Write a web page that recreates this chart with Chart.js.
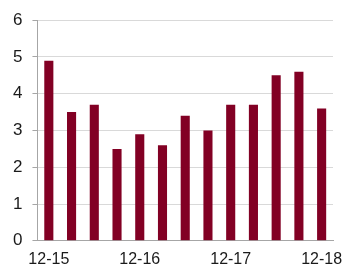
<!DOCTYPE html>
<html>
<head>
<meta charset="utf-8">
<script src="https://cdn.jsdelivr.net/npm/chart.js@4"></script>
<style>
  html, body { margin: 0; padding: 0; background: #fff; }
  #wrap { width: 347px; height: 269px; }
</style>
</head>
<body>
<div id="wrap"><canvas id="chart" width="347" height="269"></canvas></div>
<script>
// quarterly values, Dec-15 .. Dec-18
const categories = ["12-15", "03-16", "06-16", "09-16", "12-16", "03-17", "06-17",
                    "09-17", "12-17", "03-18", "06-18", "09-18", "12-18"];
const values = [4.9, 3.5, 3.7, 2.5, 2.9, 2.6, 3.4, 3.0, 3.7, 3.7, 4.5, 4.6, 3.6];
const yTicks = [0, 1, 2, 3, 4, 5, 6];

const ctx = document.getElementById("chart").getContext("2d");

new Chart(ctx, {
    type: "bar",
    data: {
        labels: categories,
        datasets: [{
            data: values,
            backgroundColor: "#820024",
            borderWidth: 0,
            categoryPercentage: 1,
            barPercentage: 0.4
        }]
    },
    options: {
        responsive: false,
        animation: false,
        layout: { padding: { top: 10, right: 14, left: 3, bottom: -9 } },
        plugins: {
            legend: { display: false },
            tooltip: { enabled: false }
        },
        scales: {
            x: {
                grid: { display: false, drawTicks: false },
                border: { color: "#a6a6a6", width: 1 },
                afterFit: function (scale) {
                    // last label may hang past the plot, like the original
                    scale.paddingRight = 0;
                },
                ticks: {
                    autoSkip: false,
                    maxRotation: 0,
                    padding: 9,
                    color: "#1a1a1a",
                    font: { family: "Liberation Sans, Arial", size: 16 },
                    callback: function (val, i) {
                        return i % 4 === 0 ? categories[i] : "";
                    }
                }
            },
            y: {
                min: yTicks[0],
                max: yTicks[yTicks.length - 1],
                afterBuildTicks: function (axis) {
                    axis.ticks = yTicks.map(v => ({ value: v }));
                },
                grid: { color: "#d9d9d9", tickLength: 5, tickColor: "#a6a6a6" },
                border: { color: "#a6a6a6", width: 1 },
                ticks: {
                    padding: 10,
                    color: "#1a1a1a",
                    font: { family: "Liberation Sans, Arial", size: 17 }
                }
            }
        }
    }
});
</script>
</body>
</html>
